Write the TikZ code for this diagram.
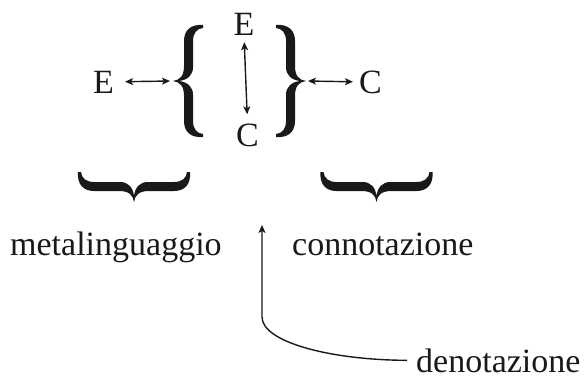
\documentclass[tikz,border=0pt]{standalone}
\usepackage{fontspec}
\setmainfont{Liberation Serif}
\usetikzlibrary{arrows.meta}
\tikzset{
  lbl/.style={inner sep=0pt, anchor=base, font=\fontsize{34}{40}\selectfont},
  tip/.style={Stealth[length=8pt,width=7pt,inset=2pt]},
  dbl/.style={{Stealth[length=8pt,width=7pt,inset=2pt]}-{Stealth[length=8pt,width=7pt,inset=2pt]}, line width=1.4pt},
  sgl/.style={-{Stealth[length=8pt,width=7pt,inset=2pt]}, line width=1.4pt},
  bigbrace/.pic={
    \fill (15,56) .. controls (3,57) and (-4,51) .. (-4,40) -- (-4,15)
      .. controls (-4,5) and (-8,1) .. (-15,0)
      .. controls (-8,-1) and (-4,-5) .. (-4,-15) -- (-4,-40)
      .. controls (-4,-51) and (3,-57) .. (15,-56) -- (15,-53)
      .. controls (9,-52.5) and (5,-48) .. (5,-40) -- (5,-14)
      .. controls (5,-6) and (0,-1.2) .. (-9,0)
      .. controls (0,1.2) and (5,6) .. (5,14) -- (5,40)
      .. controls (5,48) and (9,52.5) .. (15,53) -- cycle;
  }
}
\begin{document}
\begin{tikzpicture}[x=1pt,y=1pt,color={black!90}]
\useasboundingbox (0,0) rectangle (587,-378);

% letters round the braces
\node[lbl] (eL) at (103.5,-93) {E};
\node[lbl] (eT) at (244,-35) {E};
\node[lbl] (cB) at (247.5,-146) {C};
\node[lbl] (cR) at (370.5,-93) {C};

% the four braces
\pic at (188,-81) {bigbrace};
\pic[rotate=180] at (291,-81) {bigbrace};
\pic[rotate=90] at (134,-187) {bigbrace};
\pic[rotate=90] at (376.5,-187) {bigbrace};

\coordinate (lbtip) at (170,-81);
\coordinate (rbtip) at (308,-81);

% double arrows
\draw[dbl, shorten <=11pt] (eL.east) -- (lbtip);
\draw[dbl, shorten <=6pt] (cR.west) -- (rbtip);
\draw[dbl, shorten <=7pt, shorten >=9pt] (eT.south) -- (cB.north);

% labels
\node[lbl, anchor=base west] (meta) at (10,-255) {metalinguaggio};
\node[lbl, anchor=base west] (conn) at (292,-255) {connotazione};
\node[lbl, anchor=base west] (deno) at (416,-372) {denotazione};

\coordinate (up) at (262,-225);
\draw[sgl, shorten <=9pt] (deno.west) .. controls (330,-360) and (262,-342) .. (262,-317) -- (up);
\end{tikzpicture}
\end{document}
